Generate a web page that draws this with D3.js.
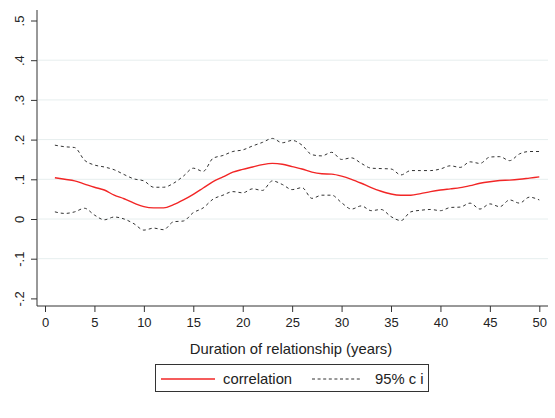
<!DOCTYPE html>
<html>
<head>
<meta charset="utf-8">
<script src="https://cdn.jsdelivr.net/npm/d3@7"></script>
<style>
  body { margin: 0; background: #fff; }
  text { font-family: "Liberation Sans", Arial, sans-serif; fill: #222; }
</style>
</head>
<body>
<div class="chart"></div>
<script>
// values, one per year of relationship
let years = d3.range(1, 51);
let correlation = [.104, .100, .096, .088, .080, .073, .060, .051, .040, .031,
    .028, .028, .036, .048, .062, .078, .094, .106, .118, .125,
    .131, .137, .140, .138, .132, .126, .118, .114, .113, .108,
    .100, .090, .079, .070, .063, .060, .060, .064, .069, .073,
    .076, .079, .084, .090, .094, .097, .098, .100, .103, .106];
let upperCI = [.186, .182, .180, .148, .136, .131, .124, .112, .101, .096,
    .080, .080, .090, .108, .128, .120, .153, .160, .170, .174,
    .184, .193, .203, .192, .198, .186, .162, .159, .168, .150,
    .154, .140, .128, .127, .126, .111, .122, .122, .122, .126,
    .134, .130, .144, .140, .156, .157, .147, .164, .170, .170];
let lowerCI = [.018, .014, .018, .027, .010, -.002, .005, .000, -.012, -.028,
    -.023, -.027, -.007, -.005, .016, .028, .050, .060, .069, .066,
    .076, .072, .096, .087, .074, .079, .052, .060, .060, .041,
    .025, .033, .021, .024, .006, -.004, .018, .022, .024, .021,
    .029, .030, .040, .025, .038, .031, .048, .040, .055, .048];

let xTicks = d3.range(0, 51, 5);
let yTicks = [-.2, -.1, 0, .1, .2, .3, .4, .5];
let yGrid = [-.1, 0, .1, .2, .3, .4];
let yLabels = ["-.2", "-.1", "0", ".1", ".2", ".3", ".4", ".5"];

var width = 555, height = 418;
var plot = { left: 37, right: 548, top: 10, bottom: 306 };

var x = d3.scaleLinear().domain([0, 50]).range([45, 539.3]);
var y = d3.scaleLinear().domain([0, .5]).range([219, 20.5]);

var svg = d3.select(".chart").append("svg")
    .attr("width", width)
    .attr("height", height);

// gridlines
svg.append("g")
    .selectAll("line")
    .data(yGrid)
    .enter().append("line")
    .attr("x1", plot.left + 1)
    .attr("x2", plot.right)
    .attr("y1", function (d) { return y(d); })
    .attr("y2", function (d) { return y(d); })
    .attr("stroke", "#e6eeee")
    .attr("stroke-width", 1);

// y axis
var yAxis = svg.append("g")
    .attr("transform", "translate(" + plot.left + ",0)")
    .call(d3.axisLeft(y).tickValues(yTicks).tickSize(6).tickPadding(9)
        .tickFormat(function (d, i) { return yLabels[i]; }));
yAxis.select(".domain").attr("d", "M0," + plot.top + "V" + plot.bottom).attr("stroke", "#333");
yAxis.selectAll(".tick line").attr("stroke", "#333");
yAxis.selectAll(".tick text")
    .attr("font-size", 13)
    .attr("fill", "#222")
    .attr("x", null)
    .attr("dy", null)
    .attr("text-anchor", "middle")
    .attr("transform", "translate(-16,0) rotate(-90)")
    .attr("dominant-baseline", "middle");

// x axis
var xAxis = svg.append("g")
    .attr("transform", "translate(0," + plot.bottom + ")")
    .call(d3.axisBottom(x).tickValues(xTicks).tickSize(6).tickPadding(6));
xAxis.select(".domain").attr("d", "M" + plot.left + ",0H" + plot.right).attr("stroke", "#333");
xAxis.selectAll(".tick line").attr("stroke", "#333");
xAxis.selectAll(".tick text").attr("font-size", 13).attr("fill", "#222");

svg.append("text")
    .attr("x", 291)
    .attr("y", 354)
    .attr("font-size", 14.8)
    .style("text-anchor", "middle")
    .text("Duration of relationship (years)");

// curves
var line = function (vals) {
    return d3.line()
        .x(function (d, i) { return x(years[i]); })
        .y(function (d) { return y(d); })
        .curve(d3.curveMonotoneX)(vals);
};

svg.append("path")
    .attr("d", line(upperCI))
    .attr("fill", "none")
    .attr("stroke", "#333")
    .attr("stroke-width", 1)
    .attr("stroke-dasharray", "3,3");
svg.append("path")
    .attr("d", line(lowerCI))
    .attr("fill", "none")
    .attr("stroke", "#333")
    .attr("stroke-width", 1)
    .attr("stroke-dasharray", "3,3");
svg.append("path")
    .attr("d", line(correlation))
    .attr("fill", "none")
    .attr("stroke", "#f22626")
    .attr("stroke-width", 1.4);

// legend
var legend = svg.append("g");
legend.append("rect")
    .attr("x", 155.5).attr("y", 364.5)
    .attr("width", 273).attr("height", 27)
    .attr("fill", "#fff")
    .attr("stroke", "#333");
legend.append("line")
    .attr("x1", 161).attr("x2", 215).attr("y1", 379).attr("y2", 379)
    .attr("stroke", "#f22626").attr("stroke-width", 1.4);
legend.append("text")
    .attr("x", 223).attr("y", 384)
    .attr("font-size", 14.8)
    .text("correlation");
legend.append("line")
    .attr("x1", 312).attr("x2", 362).attr("y1", 379).attr("y2", 379)
    .attr("stroke", "#333").attr("stroke-width", 1)
    .attr("stroke-dasharray", "3,2.6");
legend.append("text")
    .attr("x", 375).attr("y", 384)
    .attr("font-size", 14.8)
    .text("95% c i");
</script>
</body>
</html>
